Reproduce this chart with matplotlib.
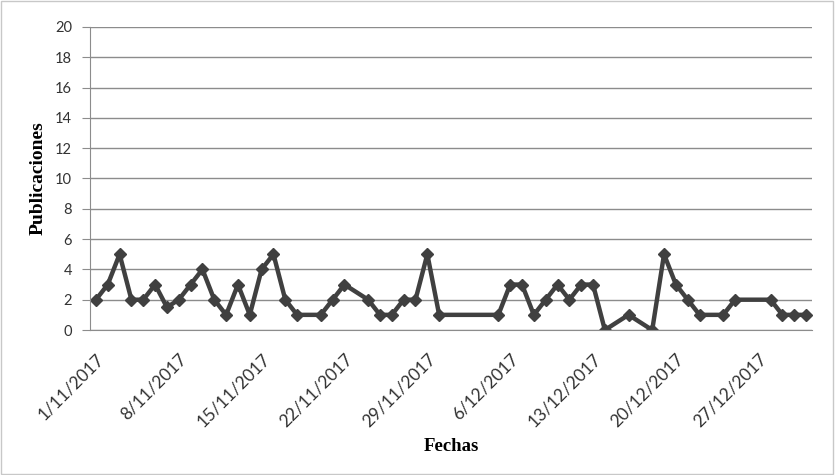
import pandas as pd
import matplotlib
matplotlib.use("Agg")
import matplotlib.pyplot as plt
import matplotlib.dates as mdates
from matplotlib.patches import Rectangle

# Publicaciones por fecha (nov-dic 2017)
fechas = ["1/11/2017", "2/11/2017", "3/11/2017", "4/11/2017", "5/11/2017",
          "6/11/2017", "7/11/2017", "8/11/2017", "9/11/2017", "10/11/2017",
          "11/11/2017", "12/11/2017", "13/11/2017", "14/11/2017", "15/11/2017",
          "16/11/2017", "17/11/2017", "18/11/2017", "20/11/2017", "21/11/2017",
          "22/11/2017", "24/11/2017", "25/11/2017", "26/11/2017", "27/11/2017",
          "28/11/2017", "29/11/2017", "30/11/2017", "5/12/2017", "6/12/2017",
          "7/12/2017", "8/12/2017", "9/12/2017", "10/12/2017", "11/12/2017",
          "12/12/2017", "13/12/2017", "14/12/2017", "16/12/2017", "18/12/2017",
          "19/12/2017", "20/12/2017", "21/12/2017", "22/12/2017", "24/12/2017",
          "25/12/2017", "28/12/2017", "29/12/2017", "30/12/2017", "31/12/2017"]
publicaciones = [2, 3, 5, 2, 2, 3, 1.5, 2, 3, 4,
                 2, 1, 3, 1, 4, 5, 2, 1, 1, 2,
                 3, 2, 1, 1, 2, 2, 5, 1, 1, 3,
                 3, 1, 2, 3, 2, 3, 3, 0, 1, 0,
                 5, 3, 2, 1, 1, 2, 2, 1, 1, 1]
etiquetas_x = ["1/11/2017", "8/11/2017", "15/11/2017", "22/11/2017", "29/11/2017",
               "6/12/2017", "13/12/2017", "20/12/2017", "27/12/2017"]

fechas_dt = pd.to_datetime(fechas, format="%d/%m/%Y")
ticks_dt = pd.to_datetime(etiquetas_x, format="%d/%m/%Y")

plt.rcParams['font.family'] = ['Lato', 'DejaVu Sans']
fuente_titulo = ['Liberation Serif', 'DejaVu Serif']

fig = plt.figure(figsize=(8.35, 4.75), dpi=100)
ax = fig.add_axes([90 / 835, 145 / 475, 722 / 835, 303 / 475])

fig.patches.append(Rectangle((0.001, 0.002), 0.997, 0.995, transform=fig.transFigure,
                             fill=False, edgecolor='#c8c8c8', linewidth=1))

ax.plot(fechas_dt, publicaciones, color='#404040', linewidth=3.2,
        marker='D', markersize=6.5, markerfacecolor='#404040', markeredgecolor='#404040')

inicio = mdates.date2num(pd.Timestamp("2017-11-01"))
fin = mdates.date2num(pd.Timestamp("2017-12-31"))
ax.set_xlim(inicio - 0.5, fin + 0.5)
ax.set_ylim(0, 20)
ax.set_yticks(range(0, 21, 2))
ax.grid(axis='y', color='#8c8c8c', linewidth=1)
ax.set_axisbelow(True)

ax.set_xticks(mdates.date2num(ticks_dt))
ax.set_xticklabels(etiquetas_x, rotation=45, ha='right', rotation_mode='anchor',
                   fontsize=12.5, color='#333333')
ax.tick_params(axis='x', length=0, pad=15)
ax.tick_params(axis='y', length=6, color='#8c8c8c', labelsize=10.5,
               labelcolor='#333333', pad=7)

for lado in ['top', 'right']:
    ax.spines[lado].set_visible(False)
ax.spines['left'].set_color('#8c8c8c')
ax.spines['bottom'].set_color('#8c8c8c')

ax.set_ylabel('Publicaciones', fontsize=14, fontweight='bold', family=fuente_titulo)
ax.yaxis.set_label_coords(-0.072, 0.5)
ax.set_xlabel('Fechas', fontsize=13.5, fontweight='bold', family=fuente_titulo)
ax.xaxis.set_label_coords(0.5, -0.383)
ax.xaxis.label.set_va('center')
ax.yaxis.label.set_va('center')

fig.savefig('out.png', dpi=100)
